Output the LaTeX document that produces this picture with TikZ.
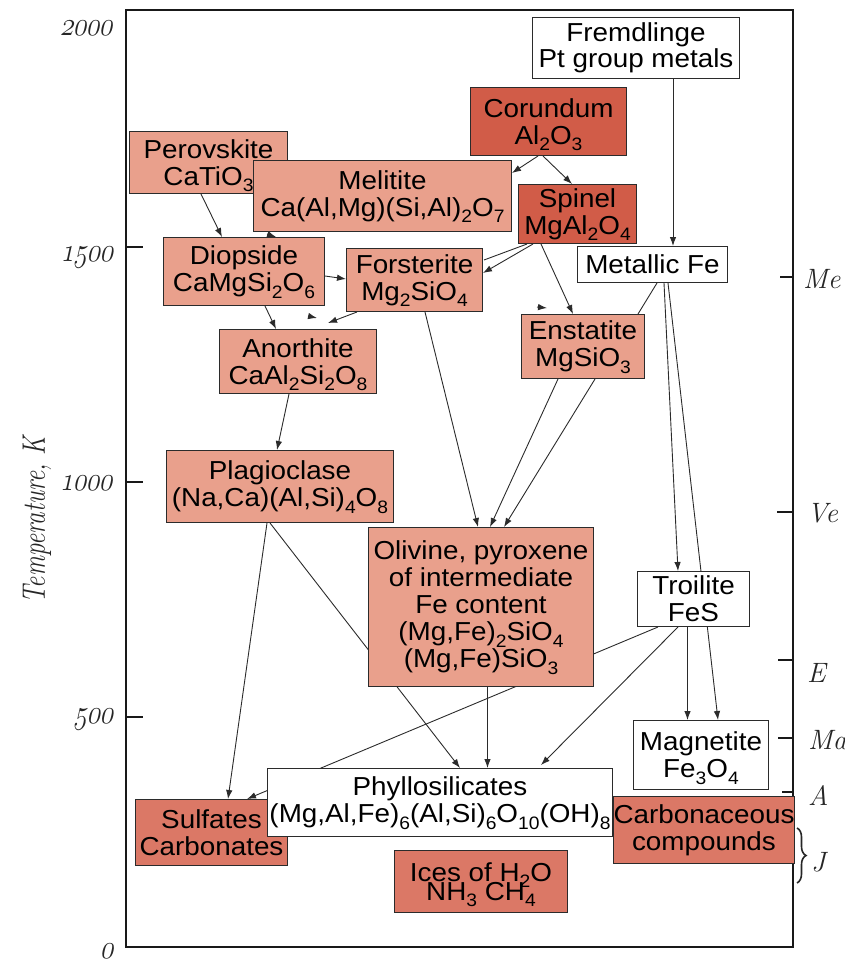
\documentclass[tikz,border=0pt]{standalone}
\usepackage{fontspec}
\newfontfamily\nodefont[FakeStretch=1.07]{Liberation Sans}
\usetikzlibrary{arrows.meta,calc,backgrounds,decorations.pathreplacing}
\definecolor{salmonL}{HTML}{E9A08C}
\definecolor{redD}{HTML}{D15C48}
\definecolor{redM}{HTML}{DB7866}
\definecolor{edgecol}{HTML}{2B2B2B}
\newcommand\sbs[1]{\smash{\raisebox{-0.25em}{\fontsize{18}{18}\selectfont #1}}}
\newcommand\boxfont{\nodefont\fontsize{26}{27}\selectfont\lineskiplimit=-100pt\lineskip=0pt}
\newcommand\icefont{\nodefont\fontsize{26}{19}\selectfont\lineskiplimit=-100pt\lineskip=0pt}
\newcommand\axfont{\fontsize{28}{28}\selectfont\itshape}
\newcommand\osn[1]{\scalebox{1.07}[1.35]{\fontsize{32}{32}\usefont{OML}{lmm}{m}{it}#1}}
\begin{document}
\begin{tikzpicture}[x=1pt,y=-1pt,
  mineral/.style={draw=edgecol, line width=1pt, inner sep=0pt, anchor=north west, align=center, font=\boxfont, text=black},
  arr/.style={draw=edgecol, line width=0.9pt, -{Latex[length=9pt,width=6.5pt]}},
  ln/.style={draw=edgecol, line width=0.9pt},
  axisframe/.style={line width=2.6pt, draw=black!90},
  axlbl/.style={font=\axfont, inner sep=0pt, text=black!85},
  oldnum/.style={transform shape, anchor=east, inner sep=0pt, text=black!85}]
\useasboundingbox (0,0) rectangle (845,961);

% frame and ticks
\draw[axisframe] (126,10) rectangle (793,947);
\draw[axisframe] (126,247) -- (143,247);
\draw[axisframe] (126,482) -- (143,482);
\draw[axisframe] (126,717) -- (143,717);
\draw[axisframe] (780,277) -- (793,277);
\draw[axisframe] (777,512) -- (793,512);
\draw[axisframe] (778,660) -- (793,660);
\draw[axisframe] (778,738) -- (793,738);
\draw[axisframe] (782,792) -- (793,792);
\draw[line width=1.6pt, draw=black!85, decorate, decoration={brace, amplitude=9pt}] (797,828) -- (797,883);

% axis labels
\begin{scope}[shift={(114,28)}, xslant=0.22]\node[oldnum] (l2000) at (0,0) {\osn{2000}};\end{scope}
\begin{scope}[shift={(114,258)}, xslant=0.22]\node[oldnum] (l1500) at (0,0) {\osn{1500}};\end{scope}
\begin{scope}[shift={(114,483)}, xslant=0.22]\node[oldnum] (l1000) at (0,0) {\osn{1000}};\end{scope}
\begin{scope}[shift={(114,720)}, xslant=0.22]\node[oldnum] (l500) at (0,0) {\osn{500}};\end{scope}
\begin{scope}[shift={(115,951)}, xslant=0.22]\node[oldnum] (l0) at (0,0) {\osn{0}};\end{scope}
\node[axlbl, rotate=90, font=\fontsize{25}{25}\selectfont\itshape] (tlab) at (37,520) {\scalebox{1}[1.3]{Temperature, K}};
\node[axlbl, anchor=west] (rMe) at (803,279) {Me};
\node[axlbl, anchor=west] (rVe) at (807,513) {Ve};
\node[axlbl, anchor=west] (rE) at (807,673) {E};
\node[axlbl, anchor=west] (rMa) at (808,740) {Ma};
\node[axlbl, anchor=west] (rA) at (808,795) {A};
\node[axlbl, anchor=west] (rJ) at (811,862) {J};

% minerals
\node[mineral, fill=salmonL, minimum width=158pt, minimum height=62pt] (perov) at (129,131) {Perovskite\\CaTiO\sbs{3}};
\node[mineral, fill=salmonL, minimum width=258pt, minimum height=71pt] (melit) at (253,160) {Melitite\\Ca(Al,Mg)(Si,Al)\sbs{2}O\sbs{7}};
\node[mineral, fill=white, minimum width=207pt, minimum height=61pt, font=\nodefont\fontsize{26}{26}\selectfont] (fremd) at (532,17) {Fremdlinge\\Pt group metals};
\node[mineral, fill=redD, minimum width=156pt, minimum height=68pt] (corund) at (470,87) {Corundum\\Al\sbs{2}O\sbs{3}};
\node[mineral, fill=redD, minimum width=118pt, minimum height=59pt] (spinel) at (518,184) {Spinel\\MgAl\sbs{2}O\sbs{4}};
\node[mineral, fill=white, minimum width=150pt, minimum height=36pt] (metfe) at (577,246) {Metallic Fe};
\node[mineral, fill=salmonL, minimum width=161pt, minimum height=68pt] (diops) at (163,237) {Diopside\\CaMgSi\sbs{2}O\sbs{6}};
\node[mineral, fill=salmonL, minimum width=136pt, minimum height=63pt] (forst) at (346,248) {Forsterite\\Mg\sbs{2}SiO\sbs{4}};
\node[mineral, fill=salmonL, minimum width=157pt, minimum height=64pt] (anorth) at (219,329) {Anorthite\\CaAl\sbs{2}Si\sbs{2}O\sbs{8}};
\node[mineral, fill=salmonL, minimum width=123pt, minimum height=64pt] (enstat) at (521,314) {Enstatite\\MgSiO\sbs{3}};
\node[mineral, fill=salmonL, minimum width=227pt, minimum height=72pt] (plagio) at (166,450) {Plagioclase\\(Na,Ca)(Al,Si)\sbs{4}O\sbs{8}};
\node[mineral, fill=salmonL, minimum width=225pt, minimum height=159pt] (olivine) at (368,527) {Olivine, pyroxene\\of intermediate\\Fe content\\(Mg,Fe)\sbs{2}SiO\sbs{4}\\(Mg,Fe)SiO\sbs{3}};
\node[mineral, fill=white, minimum width=112pt, minimum height=55pt] (troil) at (637,571) {Troilite\\FeS};
\node[mineral, fill=white, minimum width=135pt, minimum height=69pt] (magnet) at (633,720) {Magnetite\\Fe\sbs{3}O\sbs{4}};
\node[mineral, fill=redM, minimum width=152pt, minimum height=66pt] (sulf) at (135,799) {Sulfates\\Carbonates};
\node[mineral, fill=white, minimum width=345pt, minimum height=68pt] (phyllo) at (267,768) {Phyllosilicates\\(Mg,Al,Fe)\sbs{6}(Al,Si)\sbs{6}O\sbs{10}(OH)\sbs{8}};
\node[mineral, fill=redM, minimum width=175pt, minimum height=67pt] (carbon) at (613,796) {Carbonaceous\\compounds};
\node[mineral, fill=redM, minimum width=173pt, minimum height=62pt, font=\icefont] (ices) at (394,850) {Ices of H\sbs{2}O\\NH\sbs{3} CH\sbs{4}};

% connectors
\begin{scope}[on background layer]
\draw[arr] ($(perov.south west)+(72,0)$) -- ($(diops.north west)+(59,0)$);
\draw[arr] ($(corund.south west)+(68,0)$) -- ($(melit.north east)+(0,13)$);
\draw[arr] ($(corund.south west)+(73,0)$) -- ($(spinel.north west)+(54,0)$);
\draw[arr] ($(fremd.south west)+(141,0)$) -- ($(metfe.north west)+(96,0)$);
\draw[ln]  ($(spinel.south west)+(9,0)$) -- ($(forst.north east)+(1,12)$);
\draw[arr] ($(spinel.south west)+(15,0)$) -- ($(forst.north east)+(0,25)$);
\draw[arr] ($(spinel.south west)+(23,0)$) -- ($(enstat.north west)+(52,0)$);
\draw[arr] ($(diops.north east)+(0,39)$) -- ($(forst.north west)+(0,31)$);
\draw[arr] ($(diops.south west)+(102,0)$) -- ($(anorth.north west)+(57,0)$);
\draw[arr] ($(forst.south west)+(11,0)$) -- ($(anorth.north west)+(109,-6)$);
\draw[ln]  ($(metfe.south west)+(80,0)$) -- ($(enstat.north east)+(-7,0)$);
\draw[arr] ($(metfe.south west)+(87,0)$) -- ($(troil.north west)+(41,0)$);
\draw[arr] ($(metfe.south west)+(91,0)$) -- ($(magnet.north west)+(85,0)$);
\draw[arr] ($(forst.south west)+(79,0)$) -- ($(olivine.north west)+(110,0)$);
\draw[arr] ($(enstat.south west)+(37,0)$) -- ($(olivine.north west)+(122,0)$);
\draw[arr] ($(enstat.south west)+(74,0)$) -- ($(olivine.north west)+(136,0)$);
\draw[arr] ($(anorth.south west)+(70,0)$) -- ($(plagio.north west)+(111,0)$);
\draw[arr] ($(plagio.south west)+(101,0)$) -- ($(sulf.north west)+(93,0)$);
\draw[arr] ($(plagio.south west)+(104,0)$) -- ($(phyllo.north west)+(193,0)$);
\draw[arr] ($(olivine.south west)+(119.5,0)$) -- ($(phyllo.north west)+(220.5,0)$);
\draw[arr] ($(troil.south west)+(21,0)$) -- ($(sulf.north west)+(112,0)$);
\draw[arr] ($(troil.south west)+(41,0)$) -- ($(phyllo.north west)+(274,-3)$);
\draw[arr] ($(troil.south west)+(50.5,0)$) -- ($(magnet.north west)+(54.5,0)$);
\end{scope}
% stray arrowheads
\draw[arr] ($(diops.north west)+(104,-3)$) -- ($(diops.north west)+(113,0)$);
\draw[arr] ($(anorth.north west)+(89,-13)$) -- ($(anorth.north west)+(98,-11)$);
\draw[arr] ($(enstat.north west)+(16,-7)$) -- ($(enstat.north west)+(26,-6)$);
\end{tikzpicture}
\end{document}
